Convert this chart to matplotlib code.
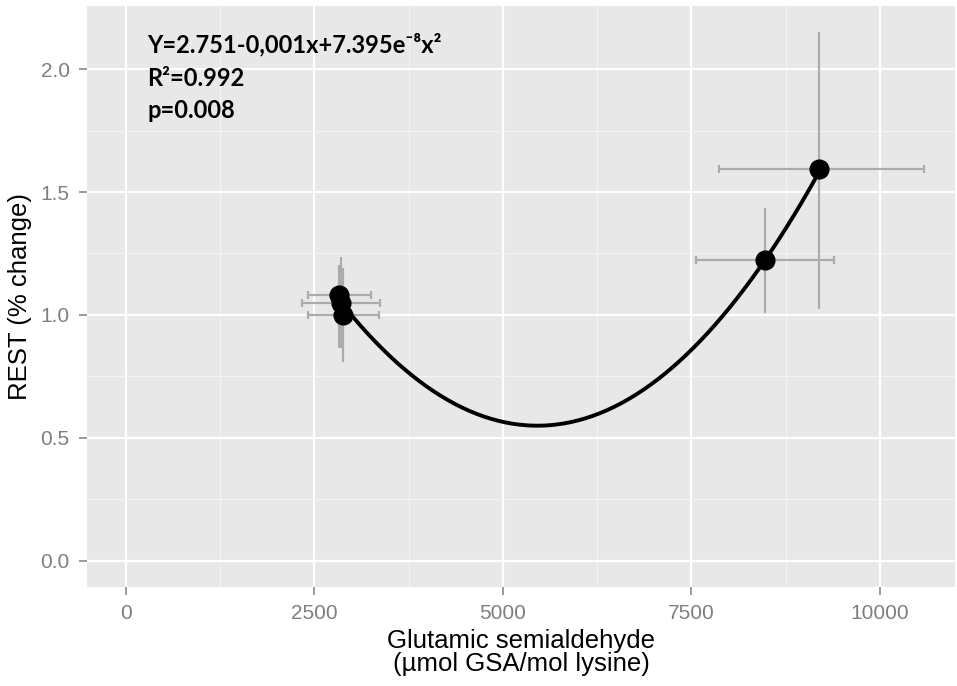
import numpy as np
import matplotlib.pyplot as plt

# GSA (x) vs REST (y) with error ranges
gsa = np.array([2825, 2852, 2878, 8477, 9192])
gsa_lo = np.array([2411, 2331, 2411, 7563, 7867])
gsa_hi = np.array([3245, 3364, 3351, 9391, 10583])
rest = np.array([1.081, 1.050, 1.000, 1.222, 1.593])
rest_lo = np.array([0.866, 0.866, 0.808, 1.006, 1.026])
rest_hi = np.array([1.203, 1.235, 1.190, 1.434, 2.151])

# fitted quadratic (x^2, x, 1), as printed on the chart; x term unrounded
fit_coef = [7.395e-8, -8.07e-4, 2.751]

xticks = [0, 2500, 5000, 7500, 10000]
yticks = [0.0, 0.5, 1.0, 1.5, 2.0]
annot = ["Y=2.751-0,001x+7.395e\u207b\u2078x\u00b2", "R\u00b2=0.992", "p=0.008"]

plt.rcParams["font.family"] = ["Liberation Sans", "DejaVu Sans"]

fig = plt.figure(figsize=(9.57, 6.86), dpi=100)
ax = fig.add_axes([87 / 957, 99 / 686, 868 / 957, 581 / 686])
ax.set_facecolor("#E8E8E8")
for s in ax.spines.values():
    s.set_visible(False)

ax.set_xlim(-517, 10995)
ax.set_ylim(-0.107, 2.257)

# grid
ax.set_xticks(xticks)
ax.set_yticks(yticks)
ax.set_xticks([1250, 3750, 6250, 8750], minor=True)
ax.set_yticks([0.25, 0.75, 1.25, 1.75], minor=True)
ax.grid(which="major", color="white", lw=1.6)
ax.grid(which="minor", color="#F4F4F4", lw=0.8)
ax.set_axisbelow(True)
ax.tick_params(which="minor", length=0)
ax.tick_params(which="major", length=6, width=1.1, color="#7F7F7F",
               labelcolor="#7F7F7F", labelsize=15, pad=6.5)
ax.set_xticklabels([str(t) for t in xticks])
ax.set_yticklabels(["%.1f" % t for t in yticks])

# error bars
ax.errorbar(gsa, rest, xerr=[gsa - gsa_lo, gsa_hi - gsa], fmt="none",
            ecolor="#ABABAB", elinewidth=1.6, capsize=3, capthick=1.6, zorder=2)
ax.errorbar(gsa, rest, yerr=[rest - rest_lo, rest_hi - rest], fmt="none",
            ecolor="#ABABAB", elinewidth=1.6, capsize=0, zorder=2)

# quadratic fit line over the data range
xs = np.linspace(gsa.min(), gsa.max(), 200)
ax.plot(xs, np.polyval(fit_coef, xs), color="black", lw=2.8, zorder=3)

ax.plot(gsa, rest, "o", color="black", ms=13.5, zorder=4)

for i, t in enumerate(annot):
    ax.text(279, 2.098 - i * 0.134, t, fontsize=17, fontweight="bold",
            family=["Lato", "DejaVu Sans"], ha="left", va="center")

ax.set_xlabel("Glutamic semialdehyde\n(\u00b5mol GSA/mol lysine)", fontsize=18.5,
              linespacing=0.95, labelpad=4)
ax.set_ylabel("REST (% change)", fontsize=18.5, labelpad=6)

plt.savefig("out.png", dpi=100)
